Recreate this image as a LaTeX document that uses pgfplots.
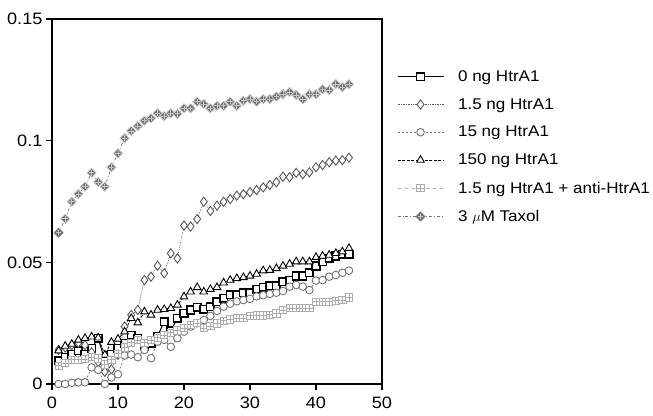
\documentclass[border=0pt]{standalone}
\usepackage{fontspec}
\setmainfont[FakeStretch=1.1]{Liberation Sans}
\usepackage{pgfplots}
\usepackage{pgfplotstable}
\pgfplotsset{compat=1.18}

% marks: square with a cross inside, filled diamond with a light cross
\pgfdeclareplotmark{sqplus}{%
  \pgfpathrectangle{\pgfqpoint{-\pgfplotmarksize}{-\pgfplotmarksize}}{\pgfqpoint{2\pgfplotmarksize}{2\pgfplotmarksize}}%
  \pgfpathmoveto{\pgfqpoint{-\pgfplotmarksize}{0pt}}\pgfpathlineto{\pgfqpoint{\pgfplotmarksize}{0pt}}%
  \pgfpathmoveto{\pgfqpoint{0pt}{-\pgfplotmarksize}}\pgfpathlineto{\pgfqpoint{0pt}{\pgfplotmarksize}}%
  \pgfusepathqfillstroke}
\pgfdeclareplotmark{dplus}{%
  \pgfpathmoveto{\pgfqpoint{0pt}{\pgfplotmarksize}}%
  \pgfpathlineto{\pgfqpoint{\pgfplotmarksize}{0pt}}%
  \pgfpathlineto{\pgfqpoint{0pt}{-\pgfplotmarksize}}%
  \pgfpathlineto{\pgfqpoint{-\pgfplotmarksize}{0pt}}%
  \pgfpathclose\pgfusepathqfillstroke
  \pgfsetstrokecolor{gray!45}\pgfsetlinewidth{0.8pt}%
  \pgfpathmoveto{\pgfqpoint{-0.6\pgfplotmarksize}{0pt}}\pgfpathlineto{\pgfqpoint{0.6\pgfplotmarksize}{0pt}}%
  \pgfpathmoveto{\pgfqpoint{0pt}{-0.6\pgfplotmarksize}}\pgfpathlineto{\pgfqpoint{0pt}{0.6\pgfplotmarksize}}%
  \pgfusepathqstroke}

\pgfplotstableread{
x  a      b      c      d      e      f
1  0.0096 0.0140 0.0000 0.0137 0.0075 0.0622
2  0.0110 0.0150 0.0000 0.0156 0.0085 0.0679
3  0.0123 0.0160 0.0005 0.0164 0.0100 0.0749
4  0.0137 0.0170 0.0007 0.0181 0.0100 0.0781
5  0.0123 0.0160 0.0007 0.0188 0.0102 0.0811
6  0.0147 0.0130 0.0068 0.0194 0.0110 0.0868
7  0.0188 0.0090 0.0058 0.0190 0.0105 0.0830
8  0.0096 0.0050 0.0000 0.0120 0.0080 0.0811
9  0.0123 0.0060 0.0027 0.0172 0.0100 0.0891
10 0.0147 0.0120 0.0040 0.0185 0.0125 0.0948
11 0.0167 0.0236 0.0117 0.0215 0.0150 0.1010
12 0.0201 0.0284 0.0121 0.0270 0.0170 0.1040
13 0.0188 0.0304 0.0110 0.0252 0.0180 0.1060
14 0.0156 0.0427 0.0140 0.0297 0.0170 0.1082
15 0.0167 0.0441 0.0106 0.0284 0.0180 0.1092
16 0.0197 0.0486 0.0174 0.0304 0.0190 0.1113
17 0.0256 0.0455 0.0181 0.0307 0.0200 0.1101
18 0.0218 0.0537 0.0153 0.0311 0.0210 0.1113
19 0.0270 0.0516 0.0188 0.0325 0.0220 0.1110
20 0.0291 0.0651 0.0215 0.0359 0.0229 0.1133
21 0.0304 0.0647 0.0236 0.0379 0.0243 0.1133
22 0.0315 0.0678 0.0250 0.0397 0.0250 0.1160
23 0.0307 0.0749 0.0263 0.0379 0.0229 0.1151
24 0.0318 0.0711 0.0280 0.0389 0.0238 0.1133
25 0.0338 0.0733 0.0300 0.0397 0.0249 0.1143
26 0.0352 0.0749 0.0318 0.0416 0.0260 0.1143
27 0.0366 0.0760 0.0330 0.0427 0.0265 0.1160
28 0.0366 0.0774 0.0340 0.0434 0.0270 0.1143
29 0.0375 0.0780 0.0345 0.0438 0.0270 0.1164
30 0.0375 0.0788 0.0350 0.0444 0.0280 0.1171
31 0.0389 0.0797 0.0360 0.0452 0.0282 0.1160
32 0.0397 0.0808 0.0365 0.0466 0.0282 0.1171
33 0.0403 0.0818 0.0370 0.0468 0.0284 0.1171
34 0.0403 0.0829 0.0375 0.0475 0.0290 0.1181
35 0.0420 0.0852 0.0382 0.0485 0.0304 0.1191
36 0.0427 0.0850 0.0400 0.0493 0.0311 0.1200
37 0.0444 0.0868 0.0407 0.0503 0.0311 0.1188
38 0.0444 0.0862 0.0400 0.0503 0.0311 0.1170
39 0.0457 0.0870 0.0386 0.0503 0.0311 0.1191
40 0.0485 0.0891 0.0425 0.0521 0.0338 0.1191
41 0.0503 0.0900 0.0427 0.0526 0.0338 0.1211
42 0.0517 0.0911 0.0441 0.0530 0.0338 0.1208
43 0.0526 0.0918 0.0448 0.0537 0.0342 0.1233
44 0.0534 0.0920 0.0457 0.0544 0.0345 0.1220
45 0.0534 0.0930 0.0466 0.0558 0.0356 0.1232
}\data

\begin{document}
\begin{tikzpicture}
\path[use as bounding box] (-52pt,-31pt) rectangle (601pt,384pt);
\begin{axis}[
    at={(0pt,0pt)}, anchor=south west,
    scale only axis,
    width=330pt, height=365pt,
    xmin=0, xmax=50, ymin=0, ymax=0.15,
    xtick={0,10,20,30,40,50},
    xticklabels={0,10,20,30,40,50},
    ytick={0,0.05,0.1,0.15},
    yticklabels={0,0.05,0.1,0.15},
    xtick pos=bottom, ytick pos=left,
    tick align=outside,
    major tick length=6pt,
    axis line style={line width=1.3pt},
    every tick/.style={black, line width=1.3pt},
    tick label style={font=\fontsize{16.5}{18}\selectfont},
    xticklabel style={yshift=-3pt},
    clip=false,
    legend cell align=left,
    legend style={at={(rel axis cs:1.045,0.865)}, anchor=north west,
        draw=none, fill=none, font=\fontsize{15.5}{17}\selectfont,
        row sep=11.6pt, inner sep=0pt,
        /tikz/every odd column/.append style={column sep=12pt}},
    legend image code/.code={%
        \draw[mark repeat=2, mark phase=2] plot coordinates {(0pt,0pt) (23pt,0pt) (46pt,0pt)};},
]
\addplot[black, line width=1pt, mark=square*, mark size=3.8pt,
    mark options={solid, fill=white, line width=1.5pt}] table[x=x, y=a] {\data};
\addlegendentry{0 ng HtrA1}
\addplot[gray!70!black, line width=0.7pt, densely dotted, mark=diamond*, mark size=4.6pt,
    mark options={solid, fill=white, line width=0.9pt}] table[x=x, y=b] {\data};
\addlegendentry{1.5 ng HtrA1}
\addplot[gray!90!black, line width=0.7pt, dash pattern=on 2pt off 2pt, mark=*, mark size=3.8pt,
    mark options={solid, fill=white, line width=0.9pt}] table[x=x, y=c] {\data};
\addlegendentry{15 ng HtrA1}
\addplot[black, line width=0.8pt, dash pattern=on 3pt off 1.5pt, mark=triangle*, mark size=4.4pt,
    mark options={solid, fill=white, line width=0.9pt}] table[x=x, y=d] {\data};
\addlegendentry{150 ng HtrA1}
\addplot[gray!65, line width=0.7pt, dash pattern=on 3.5pt off 3.5pt, mark=sqplus, mark size=3.6pt,
    mark options={solid, fill=white, line width=0.9pt}] table[x=x, y=e] {\data};
\addlegendentry{1.5 ng HtrA1 + anti-HtrA1}
\addplot[gray!90!black, line width=0.7pt, dash pattern=on 3pt off 2pt on 0.8pt off 2pt, mark=dplus, mark size=4.6pt,
    mark options={solid, fill=gray!90!black, draw=gray!90!black, line width=0.5pt}] table[x=x, y=f] {\data};
\addlegendentry{3 $\mu$M Taxol}
\end{axis}
\end{tikzpicture}
\end{document}
